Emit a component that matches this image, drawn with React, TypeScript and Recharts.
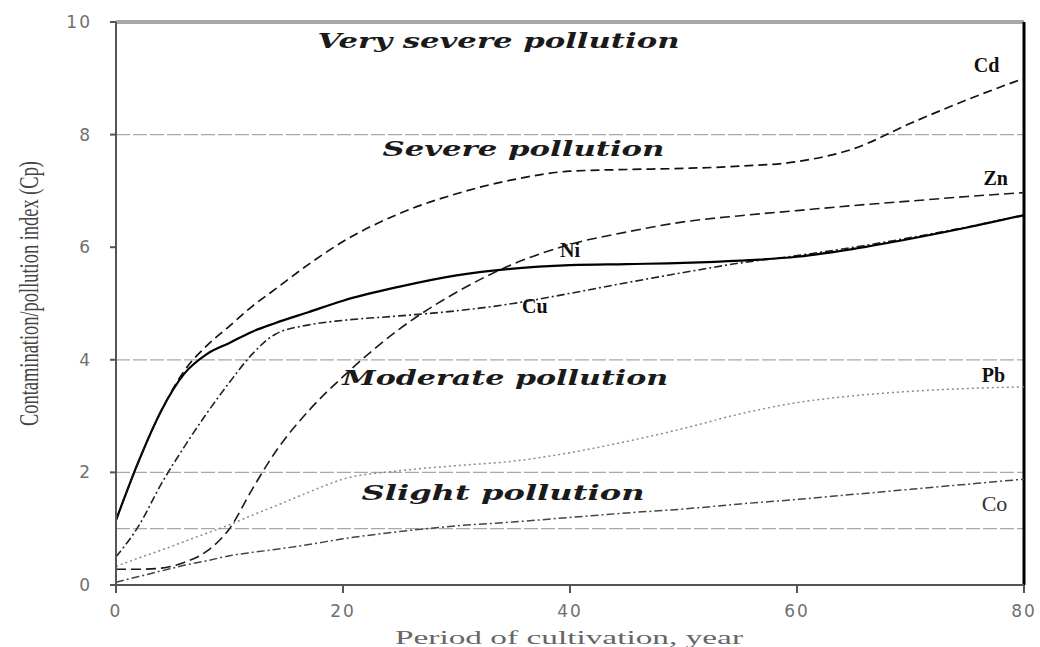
import { LineChart, Line, XAxis, YAxis, ReferenceLine, ReferenceDot } from "recharts";

// period of cultivation (years) shared by every curve
const years = [0, 2, 4, 6, 8, 10, 12, 14, 17, 20, 25, 30, 35, 40, 45, 50, 55, 60, 65, 70, 75, 80];

// contamination / pollution index
const cd = [1.15, 2.2, 3.1, 3.8, 4.25, 4.6, 4.95, 5.25, 5.7, 6.1, 6.6, 6.95, 7.2, 7.35, 7.38, 7.4, 7.44, 7.52, 7.75, 8.2, 8.62, 9.0];
const zn = [1.15, 2.2, 3.1, 3.75, 4.1, 4.3, 4.5, 4.65, 4.85, 5.05, 5.3, 5.5, 5.62, 5.68, 5.7, 5.72, 5.76, 5.83, 5.97, 6.15, 6.35, 6.57];
const ni = [0.28, 0.28, 0.3, 0.4, 0.6, 1.0, 1.7, 2.35, 3.1, 3.7, 4.55, 5.2, 5.7, 6.05, 6.27, 6.45, 6.56, 6.65, 6.74, 6.82, 6.9, 6.97];
const cu = [0.5, 1.05, 1.8, 2.45, 3.05, 3.6, 4.1, 4.45, 4.62, 4.7, 4.78, 4.87, 5.0, 5.18, 5.37, 5.55, 5.72, 5.85, 6.0, 6.17, 6.36, 6.57];
const pb = [0.33, 0.48, 0.62, 0.77, 0.92, 1.07, 1.24, 1.4, 1.65, 1.88, 2.03, 2.12, 2.2, 2.35, 2.55, 2.78, 3.04, 3.24, 3.36, 3.44, 3.49, 3.52];
const co = [0.05, 0.15, 0.25, 0.35, 0.43, 0.52, 0.58, 0.63, 0.72, 0.82, 0.95, 1.05, 1.12, 1.2, 1.28, 1.35, 1.44, 1.52, 1.61, 1.7, 1.79, 1.88];

const xTicks = [0, 20, 40, 60, 80];
const yTicks = [0, 2, 4, 6, 8, 10];
const classBounds = [8, 4, 2, 1];

const data = years.map((year, i) => ({
  year,
  cd: cd[i],
  zn: zn[i],
  ni: ni[i],
  cu: cu[i],
  pb: pb[i],
  co: co[i],
}));

// pollution class captions: text, centre (data units), drawn width in px
const zones = [
  { text: "Very severe pollution", x: 33.7, y: 9.68, w: 362 },
  { text: "Severe pollution", x: 35.9, y: 7.76, w: 282 },
  { text: "Moderate pollution", x: 34.3, y: 3.69, w: 326 },
  { text: "Slight pollution", x: 34.1, y: 1.65, w: 283 },
];

// metal names next to their curves
const metals = [
  { text: "Cd", x: 76.7, y: 9.24, bold: true },
  { text: "Zn", x: 77.5, y: 7.23, bold: true },
  { text: "Ni", x: 40.0, y: 5.95, bold: true },
  { text: "Cu", x: 36.9, y: 4.96, bold: true },
  { text: "Pb", x: 77.3, y: 3.73, bold: true },
  { text: "Co", x: 77.4, y: 1.44, bold: false },
];

const tickStyle = { fill: "#707070", fontSize: 17, fontFamily: "DejaVu Sans", letterSpacing: 2 };

function zoneLabel(text: string, w: number) {
  return (props: any) => {
    const { viewBox } = props;
    return (
      <text
        x={viewBox.x}
        y={viewBox.y}
        textAnchor="middle"
        dominantBaseline="central"
        textLength={w}
        lengthAdjust="spacingAndGlyphs"
        fontFamily="DejaVu Serif"
        fontStyle="italic"
        fontWeight="bold"
        fontSize={21}
        fill="#1a1a1a"
      >
        {text}
      </text>
    );
  };
}

function metalLabel(text: string, bold: boolean) {
  return (props: any) => {
    const { viewBox } = props;
    return (
      <text
        x={viewBox.x}
        y={viewBox.y}
        textAnchor="middle"
        dominantBaseline="central"
        fontFamily="Liberation Serif"
        fontWeight={bold ? "bold" : "normal"}
        fontSize={bold ? 20 : 22}
        fill={bold ? "#111" : "#333"}
      >
        {text}
      </text>
    );
  };
}

const yLabel = (props: any) => {
  const { viewBox } = props;
  const cx = viewBox.x - 28;
  const cy = viewBox.y + viewBox.height / 2 - 10;
  return (
    <text
      x={cx}
      y={cy}
      transform={`rotate(-90 ${cx} ${cy})`}
      textAnchor="middle"
      dominantBaseline="central"
      textLength={265}
      lengthAdjust="spacingAndGlyphs"
      fontFamily="Liberation Serif"
      fontSize={28}
      fill="#444"
    >
      Contamination/pollution index (Cp)
    </text>
  );
};

const xLabel = (props: any) => {
  const { viewBox } = props;
  return (
    <text
      x={viewBox.x + viewBox.width / 2 - 1}
      y={viewBox.y + 59}
      textAnchor="middle"
      textLength={348}
      lengthAdjust="spacingAndGlyphs"
      fontFamily="Liberation Serif"
      fontSize={19}
      fill="#666"
    >
      Period of cultivation, year
    </text>
  );
};

export default function App() {
  return (
    <div style={{ position: "absolute", left: 0, top: 0, background: "#fff" }}>
      <LineChart
        width={1040}
        height={647}
        data={data}
        margin={{ top: 22, right: 16, bottom: 12, left: 56 }}
      >
        <XAxis
          dataKey="year"
          type="number"
          domain={[0, 80]}
          ticks={xTicks}
          height={50}
          tickSize={8}
          tickMargin={12}
          tick={tickStyle}
          axisLine={{ stroke: "#555", strokeWidth: 2 }}
          tickLine={{ stroke: "#555", strokeWidth: 2 }}
          label={{ content: xLabel }}
        />
        <YAxis
          type="number"
          domain={[0, 10]}
          ticks={yTicks}
          width={60}
          tickSize={6}
          tickMargin={18}
          tick={tickStyle}
          axisLine={{ stroke: "#555", strokeWidth: 2 }}
          tickLine={{ stroke: "#555", strokeWidth: 2 }}
          label={{ content: yLabel }}
        />

        {classBounds.map((v) => (
          <ReferenceLine key={v} y={v} stroke="#a8a8a8" strokeWidth={1.3} strokeDasharray="14 3" />
        ))}
        <ReferenceLine y={10} stroke="#a8a8a8" strokeWidth={4} />
        <ReferenceLine x={80} stroke="#000" strokeWidth={3} />

        <Line type="monotone" dataKey="pb" stroke="#8a8a8a" strokeWidth={1.5} strokeDasharray="2 3" dot={false} isAnimationActive={false} />
        <Line type="monotone" dataKey="co" stroke="#444" strokeWidth={1.5} strokeDasharray="8 3 2 3" dot={false} isAnimationActive={false} />
        <Line type="monotone" dataKey="cu" stroke="#222" strokeWidth={1.6} strokeDasharray="8 3 2 3" dot={false} isAnimationActive={false} />
        <Line type="monotone" dataKey="ni" stroke="#1a1a1a" strokeWidth={1.6} strokeDasharray="10 5" dot={false} isAnimationActive={false} />
        <Line type="monotone" dataKey="zn" stroke="#000" strokeWidth={2.2} dot={false} isAnimationActive={false} />
        <Line type="monotone" dataKey="cd" stroke="#111" strokeWidth={1.7} strokeDasharray="9 5" dot={false} isAnimationActive={false} />

        {zones.map((z) => (
          <ReferenceDot key={z.text} x={z.x} y={z.y} r={0} stroke="none" fill="none" label={{ content: zoneLabel(z.text, z.w) }} />
        ))}
        {metals.map((m) => (
          <ReferenceDot key={m.text} x={m.x} y={m.y} r={0} stroke="none" fill="none" label={{ content: metalLabel(m.text, m.bold) }} />
        ))}
      </LineChart>
    </div>
  );
}
